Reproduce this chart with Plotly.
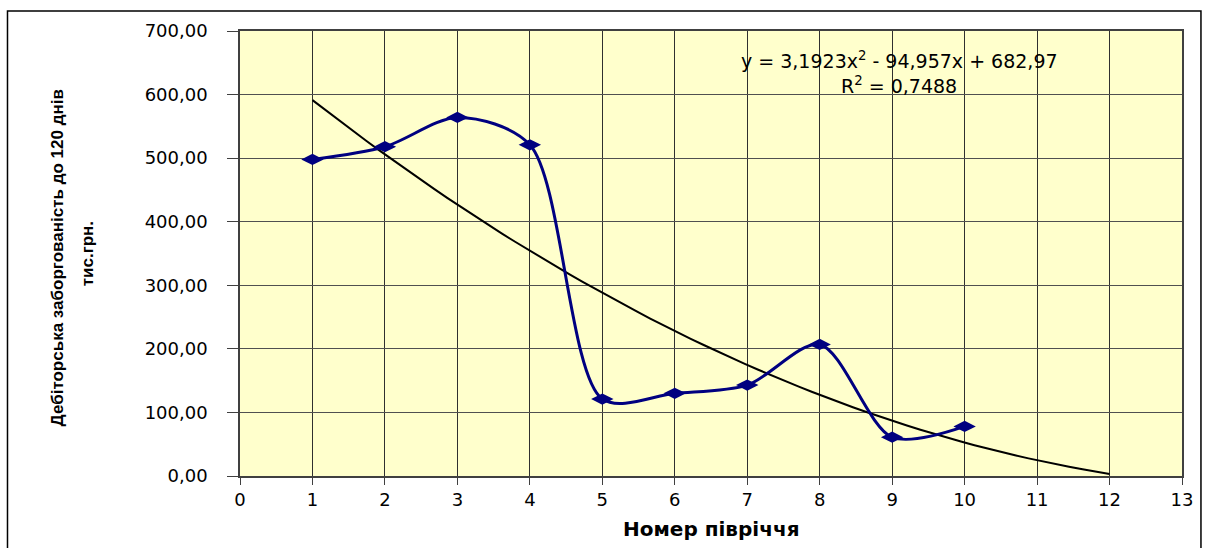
import numpy as np
import plotly.graph_objects as go

# Data
half_years = [1, 2, 3, 4, 5, 6, 7, 8, 9, 10]
receivables = [498, 518, 564, 521, 121, 130, 143, 207, 61, 78]

# Polynomial trend (as shown on the chart)
trend_coeffs = [3.1923, -94.957, 682.97]
trend_x_range = [1, 12]

x_tick_vals = list(range(0, 14))
x_tick_text = [str(v) for v in x_tick_vals]
y_tick_vals = [0, 100, 200, 300, 400, 500, 600, 700]
y_tick_text = ["0,00", "100,00", "200,00", "300,00", "400,00", "500,00", "600,00", "700,00"]

tx = np.linspace(trend_x_range[0], trend_x_range[1], 60)
ty = np.polyval(trend_coeffs, tx)

fig = go.Figure()
fig.add_trace(go.Scatter(
    x=tx, y=ty, mode="lines",
    line=dict(color="black", width=2),
    hoverinfo="skip", showlegend=False,
))
fig.add_trace(go.Scatter(
    x=half_years, y=receivables, mode="lines+markers",
    line=dict(color="#000080", width=3, shape="spline", smoothing=0.85),
    marker=dict(symbol="diamond-wide", size=16, color="#000080"),
    showlegend=False,
))

tick_font = dict(family="DejaVu Sans, Liberation Sans, Arial", size=18, color="black")

fig.update_layout(
    width=1205, height=548,
    margin=dict(l=240, r=21, t=31, b=72),
    paper_bgcolor="white",
    plot_bgcolor="#FFFFCC",
    xaxis=dict(
        range=[0, 13], tickvals=x_tick_vals, ticktext=x_tick_text,
        showgrid=True, gridcolor="#303030", gridwidth=1.3,
        showline=True, linecolor="#404040", linewidth=1.5, mirror=True,
        ticks="outside", ticklen=7, tickcolor="#404040",
        tickfont=tick_font, zeroline=False,
    ),
    yaxis=dict(
        range=[0, 700], tickvals=y_tick_vals, ticktext=y_tick_text,
        showgrid=True, gridcolor="#505050", gridwidth=1.3,
        showline=True, linecolor="#404040", linewidth=1.5, mirror=True,
        ticks="outside", ticklen=11, tickcolor="#404040",
        tickfont=tick_font, zeroline=False, ticklabelstandoff=16,
    ),
    annotations=[
        dict(text="<b>Номер півріччя</b>", xref="paper", yref="paper",
             x=0.5, y=(476 - 529) / 445, xanchor="center", yanchor="middle",
             showarrow=False, font=dict(family="DejaVu Sans, Liberation Sans", size=20, color="black")),
        dict(text="<b>Дебіторська заборгованість до 120 днів</b>", xref="paper", yref="paper",
             x=(57 - 240) / 944, y=(476 - 258) / 445, xanchor="center", yanchor="middle",
             textangle=-90, showarrow=False,
             font=dict(family="Liberation Sans, Arial", size=17, color="black")),
        dict(text="<b>тис.грн.</b>", xref="paper", yref="paper",
             x=(88 - 240) / 944, y=(476 - 254) / 445, xanchor="center", yanchor="middle",
             textangle=-90, showarrow=False,
             font=dict(family="Liberation Sans, Arial", size=17, color="black")),
        dict(text="y = 3,1923x<sup>2</sup> - 94,957x + 682,97", xref="paper", yref="paper",
             x=(901 - 240) / 944, y=(476 - 60) / 445, xanchor="center", yanchor="middle",
             showarrow=False, font=dict(family="DejaVu Sans, Liberation Sans", size=19, color="black")),
        dict(text="R<sup>2</sup> = 0,7488", xref="paper", yref="paper",
             x=(900 - 240) / 944, y=(476 - 85) / 445, xanchor="center", yanchor="middle",
             showarrow=False, font=dict(family="DejaVu Sans, Liberation Sans", size=19, color="black")),
    ],
    shapes=[
        dict(type="rect", xref="paper", yref="paper",
             x0=(7 - 240) / 944, x1=(1203 - 240) / 944,
             y0=(476 - 560) / 445 - 0.2, y1=(476 - 11) / 445,
             line=dict(color="black", width=1.5), fillcolor="rgba(0,0,0,0)", layer="below"),
    ],
)

fig.write_html("out.html")
